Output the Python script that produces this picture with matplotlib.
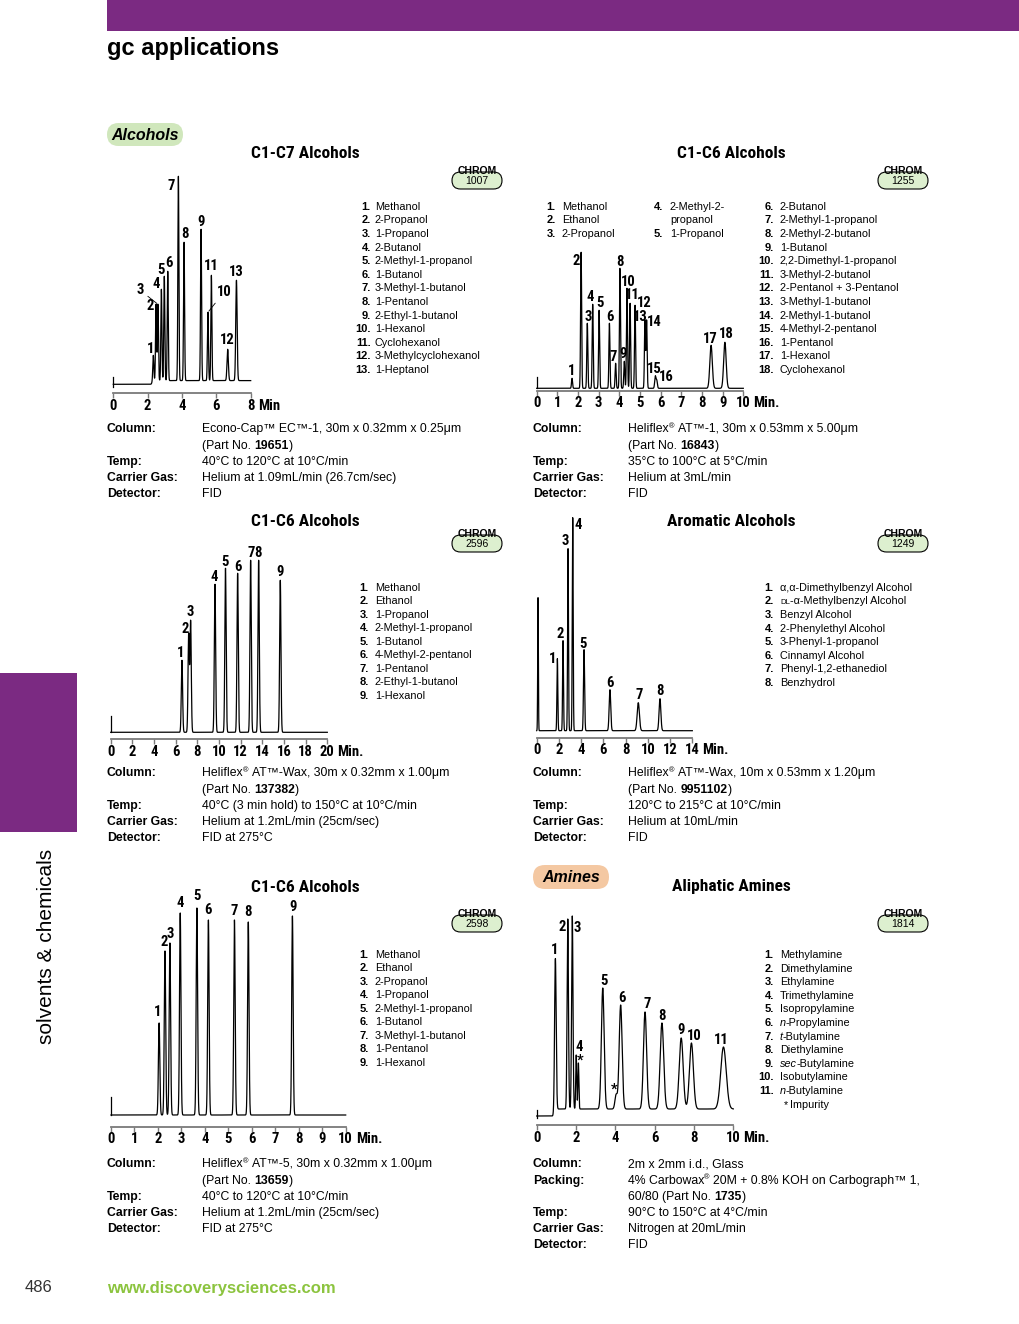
import re
import numpy as np
import matplotlib
matplotlib.use('Agg')
import matplotlib.pyplot as plt
from matplotlib import font_manager as fm
from matplotlib.font_manager import FontProperties
from matplotlib.patches import Rectangle, FancyBboxPatch

# ---------------- data ----------------
# 1) C1-C7 Alcohols, CHROM 1007
p1_names = ['Methanol', '2-Propanol', '1-Propanol', '2-Butanol', '2-Methyl-1-propanol',
            '1-Butanol', '3-Methyl-1-butanol', '1-Pentanol', '2-Ethyl-1-butanol',
            '1-Hexanol', 'Cyclohexanol', '3-Methylcyclohexanol', '1-Heptanol']
p1_labels = [str(i) for i in range(1, 14)]
p1_rt = [2.33, 2.49, 2.60, 2.80, 2.97, 3.17, 3.79, 4.12, 5.11, 5.51, 5.71, 6.66, 7.17]
p1_top = [29, 80, 80, 95, 108, 113, 208, 142, 155, 72, 109, 35, 104]
p1_sigma = [0.03] * 11 + [0.04, 0.04]
p1_ticks = [0, 2, 4, 6, 8]
p1_info = [('Column:', 'Econo-Cap™ EC™-1, 30m x 0.32mm x 0.25μm'),
           ('', '(Part No. **19651**)'),
           ('Temp:', '40°C to 120°C at 10°C/min'),
           ('Carrier Gas:', 'Helium at 1.09mL/min (26.7cm/sec)'),
           ('Detector:', 'FID')]

# 2) C1-C6 Alcohols, CHROM 1255
p2_names = ['Methanol', 'Ethanol', '2-Propanol', '2-Methyl-2-\npropanol', '1-Propanol',
            '2-Butanol', '2-Methyl-1-propanol', '2-Methyl-2-butanol', '1-Butanol',
            '2,2-Dimethyl-1-propanol', '3-Methyl-2-butanol', '2-Pentanol + 3-Pentanol',
            '3-Methyl-1-butanol', '2-Methyl-1-butanol', '4-Methyl-2-pentanol',
            '1-Pentanol', '1-Hexanol', 'Cyclohexanol']
p2_labels = [str(i) for i in range(1, 19)]
p2_rt = [1.71, 2.15, 2.45, 2.71, 3.02, 3.52, 3.82, 4.03, 4.24, 4.37, 4.52, 4.76,
         5.24, 5.32, 5.74, 5.81, 8.44, 9.11]
p2_top = [10, 136, 65, 84, 78, 65, 25, 120, 27, 100, 85, 83, 68, 68, 12, 8, 43, 46]
p2_sigma = [0.025] * 14 + [0.03, 0.03, 0.06, 0.06]
p2_ticks = list(range(0, 11))
p2_info = [('Column:', 'Heliflex^®^ AT™-1, 30m x 0.53mm x 5.00μm'),
           ('', '(Part No. **16843**)'),
           ('Temp:', '35°C to 100°C at 5°C/min'),
           ('Carrier Gas:', 'Helium at 3mL/min'),
           ('Detector:', 'FID')]

# 3) C1-C6 Alcohols, CHROM 2596
p3_names = ['Methanol', 'Ethanol', '1-Propanol', '2-Methyl-1-propanol', '1-Butanol',
            '4-Methyl-2-pentanol', '1-Pentanol', '2-Ethyl-1-butanol', '1-Hexanol']
p3_labels = [str(i) for i in range(1, 10)]
p3_rt = [6.58, 7.20, 7.38, 9.63, 10.60, 11.72, 12.92, 13.66, 15.66]
p3_top = [72, 98, 111, 148, 164, 159, 172, 172, 152]
p3_sigma = [0.06] * 9
p3_ticks = list(range(0, 21, 2))
p3_info = [('Column:', 'Heliflex^®^ AT™-Wax, 30m x 0.32mm x 1.00μm'),
           ('', '(Part No. **137382**)'),
           ('Temp:', '40°C (3 min hold) to 150°C at 10°C/min'),
           ('Carrier Gas:', 'Helium at 1.2mL/min (25cm/sec)'),
           ('Detector:', 'FID at 275°C')]

# 4) Aromatic Alcohols, CHROM 1249
p4_names = ['α,α-Dimethylbenzyl Alcohol', '~DL~-α-Methylbenzyl Alcohol', 'Benzyl Alcohol',
            '2-Phenylethyl Alcohol', '3-Phenyl-1-propanol', 'Cinnamyl Alcohol',
            'Phenyl-1,2-ethanediol', 'Benzhydrol']
p4_labels = [str(i) for i in range(1, 9)]
p4_rt = [1.86, 2.37, 2.82, 3.24, 4.26, 6.59, 9.14, 11.09]
p4_top = [72, 90, 182, 213, 81, 41, 28, 32]
p4_sigma = [0.04, 0.04, 0.04, 0.04, 0.05, 0.07, 0.10, 0.08]
p4_solvent = (0.12, 133)
p4_ticks = list(range(0, 15, 2))
p4_info = [('Column:', 'Heliflex^®^ AT™-Wax, 10m x 0.53mm x 1.20μm'),
           ('', '(Part No. **9951102**)'),
           ('Temp:', '120°C to 215°C at 10°C/min'),
           ('Carrier Gas:', 'Helium at 10mL/min'),
           ('Detector:', 'FID')]

# 5) C1-C6 Alcohols, CHROM 2598
p5_names = ['Methanol', 'Ethanol', '2-Propanol', '1-Propanol', '2-Methyl-1-propanol',
            '1-Butanol', '3-Methyl-1-butanol', '1-Pentanol', '1-Hexanol']
p5_labels = [str(i) for i in range(1, 10)]
p5_rt = [2.05, 2.30, 2.51, 2.95, 3.66, 4.15, 5.26, 5.85, 7.73]
p5_top = [92, 164, 172, 202, 207, 195, 195, 193, 199]
p5_sigma = [0.03] * 9
p5_ticks = list(range(0, 11))
p5_info = [('Column:', 'Heliflex^®^ AT™-5, 30m x 0.32mm x 1.00μm'),
           ('', '(Part No. **13659**)'),
           ('Temp:', '40°C to 120°C at 10°C/min'),
           ('Carrier Gas:', 'Helium at 1.2mL/min (25cm/sec)'),
           ('Detector:', 'FID at 275°C')]

# 6) Aliphatic Amines, CHROM 1814
p6_names = ['Methylamine', 'Dimethylamine', 'Ethylamine', 'Trimethylamine',
            'Isopropylamine', '_n_-Propylamine', '_t_-Butylamine', 'Diethylamine',
            '_sec_-Butylamine', 'Isobutylamine', '_n_-Butylamine']
p6_labels = ['1', '2', '3', '4', '*', '5', '*', '6', '7', '8', '9', '10', '11']
p6_rt = [0.95, 1.58, 1.81, 2.01, 2.12, 3.36, 4.04, 4.27, 5.51, 6.37, 7.35, 7.87, 9.50]
p6_top = [158, 197, 200, 61, 53, 128, 21, 111, 104, 93, 78, 73, 69]
p6_sigma = [0.04, 0.035, 0.035, 0.025, 0.025, 0.07, 0.06, 0.075, 0.08, 0.09, 0.10, 0.10, 0.14]
p6_ticks = [0, 2, 4, 6, 8, 10]
p6_info = [('Column:', '2m x 2mm i.d., Glass'),
           ('Packing:', '4% Carbowax^®^ 20M + 0.8% KOH on Carbograph™ 1,'),
           ('', '60/80 (Part No. **1735**)'),
           ('Temp:', '90°C to 150°C at 4°C/min'),
           ('Carrier Gas:', 'Nitrogen at 20mL/min'),
           ('Detector:', 'FID')]

# ---------------- fonts ----------------
SANS = ['Liberation Sans', 'DejaVu Sans']
plt.rcParams['font.family'] = SANS


def find_condensed_bold():
    # the page uses a condensed bold face for titles and peak numbers
    prefs = ['Liberation Sans Narrow', 'Roboto Condensed', 'Open Sans Condensed',
             'Noto Sans', 'DejaVu Sans', 'Open Sans', 'Roboto', 'Lato', 'Inter']
    stretch_rank = {'condensed': 0, 'semi-condensed': 1, 'extra-condensed': 2}
    best = None
    for f in fm.fontManager.ttflist:
        w = f.weight if isinstance(f.weight, int) else fm.weight_dict.get(f.weight, 400)
        narrow = f.stretch in stretch_rank or 'Narrow' in f.name or 'Condensed' in f.name
        if not narrow or w < 600 or w > 800 or f.style != 'normal':
            continue
        fam = next((i for i, p in enumerate(prefs) if f.name.startswith(p)), 50)
        key = (stretch_rank.get(f.stretch, 0), abs(w - 700), fam)
        if best is None or key < best[0]:
            best = (key, f.fname)
    return best[1] if best else None


COND_FILE = find_condensed_bold()


def cond(size):
    if COND_FILE:
        return FontProperties(fname=COND_FILE, size=size)
    return FontProperties(family=SANS, weight='bold', size=size * 0.86)


PURPLE = '#7B2A82'
W, H = 1020, 1324

fig = plt.figure(figsize=(W / 100, H / 100), dpi=100)
pg = fig.add_axes([0, 0, 1, 1])
pg.set_xlim(0, W)
pg.set_ylim(H, 0)
pg.axis('off')
R = fig.canvas.get_renderer()


def pt2px(s):
    return s * 100 / 72


def rich(x, y, s, size, **base):
    # draws s from x on baseline y; **bold**, _italic_, ~small caps~, ^superscript^
    cur = x
    for piece in re.split(r'(\*\*.+?\*\*|_.+?_|~.+?~|\^.+?\^)', s):
        if not piece:
            continue
        kw = dict(base)
        fs, yy = size, y
        if piece.startswith('**'):
            piece, kw['weight'] = piece[2:-2], 'bold'
        elif piece.startswith('_'):
            piece, kw['style'] = piece[1:-1], 'italic'
        elif piece.startswith('~'):
            piece, fs = piece[1:-1], size * 0.72
        elif piece.startswith('^'):
            piece, fs, yy = piece[1:-1], size * 0.6, y - pt2px(size) * 0.33
        sp = pt2px(fs) * 0.278
        cur += (len(piece) - len(piece.lstrip(' '))) * sp
        core = piece.strip(' ')
        if core:
            t = pg.text(cur, yy, core, fontsize=fs, ha='left', va='baseline', **kw)
            cur += t.get_window_extent(R).width
        cur += (len(piece) - len(piece.rstrip(' '))) * sp
    return cur


def legend(num_x, name_x, y0, names, first=1, step=13.58, size=7.8):
    row = 0
    for i, name in enumerate(names):
        for j, ln in enumerate(name.split('\n')):
            yb = y0 + row * step + 0.36 * pt2px(size)
            if j == 0:
                pg.text(num_x, yb, f'{first + i}.', ha='right', va='baseline',
                        fontsize=size + 0.2, weight='bold')
            rich(name_x, yb, ln, size)
            row += 1
    return y0 + row * step


def info(xl, xv, y0, rows, step=16.2, size=8.8):
    for k, (lab, val) in enumerate(rows):
        yb = y0 + k * step + 0.36 * pt2px(size)
        if lab:
            pg.text(xl, yb, lab, fontsize=size, weight='bold', va='baseline')
        rich(xv, yb, val, size)


def badge(x, ytop, num):
    pg.add_patch(FancyBboxPatch((x, ytop), 50, 17, boxstyle='round,pad=0,rounding_size=8.5',
                                fc='#DDEFCF', ec='black', lw=0.8))
    pg.text(x + 25, ytop - 1.4, 'CHROM', ha='center', va='center', fontsize=7.5, weight='bold')
    pg.text(x + 25, ytop + 9, num, ha='center', va='center', fontsize=7.5)


def pill(x, y, w, h, text, color):
    pg.add_patch(FancyBboxPatch((x, y), w, h, boxstyle=f'round,pad=0,rounding_size={h / 2}',
                                fc=color, ec='none'))
    pg.text(x + w / 2, y + h / 2 + 0.5, text, ha='center', va='center', fontsize=11.5,
            weight='bold', style='italic')


def chromatogram(box, xmax, ticks, unit, rt, tops, sigma, labels, offs,
                 start=None, step=None, solvent=None, leaders=()):
    x0, x1, ay, by = box
    ty = ay - 270
    ax = fig.add_axes([x0 / W, 1 - ay / H, (x1 - x0) / W, (ay - ty) / H])
    ax.set_xlim(0, xmax)
    ax.set_ylim(by - ay, by - ty)
    ax.patch.set_visible(False)
    t = np.linspace(0, xmax, 12000)
    base = np.zeros_like(t)
    if step:
        base = step[1] / (1 + np.exp(-(t - step[0]) / 0.02))
    y = base.copy()
    for r, h, s in zip(rt, tops, sigma):
        b = step[1] if (step and r > step[0]) else 0
        y += (h - b) * np.exp(-0.5 * ((t - r) / s) ** 2)
    if solvent:
        y += solvent[1] * np.exp(-0.5 * ((t - solvent[0]) / 0.03) ** 2)
    ax.plot(t, y, color='black', lw=0.9, clip_on=False)
    if start:
        ax.plot([0, 0], start, color='black', lw=0.9, clip_on=False)
    for i, (r, h, lab, (dx, dy)) in enumerate(zip(rt, tops, labels, offs)):
        arrow = dict(arrowstyle='-', lw=0.6, color='black', shrinkA=1, shrinkB=1) \
            if i in leaders else None
        ax.annotate(lab, xy=(r, h), xytext=(dx, dy), textcoords='offset pixels',
                    ha='center', va='center', fontproperties=cond(10.5),
                    annotation_clip=False, arrowprops=arrow)
    for side in ('top', 'left', 'right'):
        ax.spines[side].set_visible(False)
    ax.spines['bottom'].set_color('#7a7a7a')
    ax.spines['bottom'].set_linewidth(1.3)
    ax.set_yticks([])
    ax.set_xticks(ticks, [str(v) for v in ticks])
    ax.tick_params(axis='x', direction='out', length=3.3, width=1, color='#7a7a7a', pad=0.8)
    for lab in ax.get_xticklabels():
        lab.set_fontproperties(cond(10.5))
    ax.annotate(unit, xy=(xmax, 0), xycoords=('data', 'axes fraction'),
                xytext=(3.0 * len(str(ticks[-1])) + 4, -12.5), textcoords='offset pixels',
                ha='left', va='center', fontproperties=cond(10.5), annotation_clip=False)
    return ax


# ---------------- page furniture ----------------
pg.add_patch(Rectangle((107, 0), W - 107, 30.5, color=PURPLE, lw=0))
pg.text(107, 48, 'gc applications', fontsize=17, weight='bold', va='center')
pg.add_patch(Rectangle((0, 673), 77, 159, color=PURPLE, lw=0))
pg.text(47, 946, 'solvents & chemicals', rotation=90, ha='center', va='center', fontsize=15)
pg.text(25, 1288, '486', fontsize=12, color='#333333', va='center')
pg.text(107, 1288, 'www.discoverysciences.com', fontsize=12, weight='bold',
        color='#8CC43F', va='center')

pill(107, 123, 76, 23, 'Alcohols', '#D0E7BC')
pill(533, 865, 76, 24, 'Amines', '#F4C8A2')

for (cx, cy, title) in [(305, 154, 'C1-C7 Alcohols'), (731, 154, 'C1-C6 Alcohols'),
                        (305, 521, 'C1-C6 Alcohols'), (731, 521, 'Aromatic Alcohols'),
                        (305, 887, 'C1-C6 Alcohols'), (731, 887, 'Aliphatic Amines')]:
    pg.text(cx, cy, title, ha='center', va='center', fontproperties=cond(12.5))

badge(452, 172, '1007')
badge(878, 172, '1255')
badge(452, 535, '2596')
badge(878, 535, '1249')
badge(452, 915, '2598')
badge(878, 915, '1814')

# ---------------- legends ----------------
legend(371, 375, 206, p1_names)
legend(556, 562, 206, p2_names[:3], first=1)
legend(663, 670, 206, p2_names[3:5], first=4)
legend(774, 780, 206, p2_names[5:], first=6)
legend(369, 375, 587, p3_names, step=13.5)
legend(774, 780, 587, p4_names)
legend(369, 375, 954, p5_names, step=13.5)
yi = legend(774, 780, 954, p6_names, step=13.6)
yb = yi + 0.36 * pt2px(7.8)
pg.text(788, yb + 1, '*', ha='right', va='baseline', fontsize=7.8)
pg.text(790, yb, 'Impurity', ha='left', va='baseline', fontsize=7.8)

# ---------------- condition blocks ----------------
info(107, 202, 428, p1_info)
info(533, 628, 428, p2_info)
info(107, 202, 772, p3_info)
info(533, 628, 772, p4_info)
info(107, 202, 1163, p5_info)
info(533, 628, 1163, p6_info)

# ---------------- chromatograms ----------------
chromatogram((113.3, 250.7, 393, 384.3), 8, p1_ticks, 'Min', p1_rt, p1_top, p1_sigma, p1_labels,
             [(-2.7, 6.7), (-6, -1.7), (-17.7, 14), (-5.3, 5.7), (-3.3, 6.7), (1.3, 8.3),
              (-7.7, -9.3), (1, 8), (0, 7.3), (16, 20), (0.3, 9), (0, 9.3), (0.3, 8)],
             start=(-2.4, 7), step=(2.25, 3.7), leaders=(2, 9))
chromatogram((536.7, 743.3, 390.7, 388.3), 10, p2_ticks, 'Min.', p2_rt, p2_top, p2_sigma,
             p2_labels,
             [(-0.7, 7.7), (-5, -9), (1, 6.7), (-2.7, 7.7), (1.3, 7.3), (1, 6), (-2.7, 6.7),
              (0.3, 6.3), (-1, 7.7), (1.3, 6.7), (2.3, 8.7), (9.5, 2.3), (-5, 3.3), (8, -1.7),
              (-0.8, 7.5), (9.8, 3.5), (-1, 6.7), (1.7, 8.3)],
             start=(0, 11.6))
chromatogram((110.7, 327.3, 739, 732.3), 20, p3_ticks, 'Min.', p3_rt, p3_top, p3_sigma,
             p3_labels,
             [(-1, 7.3), (-3.5, 5.5), (-0.7, 9.3), (-0.7, 7), (-0.7, 6.7), (0, 6.7), (1, 7.3),
              (-0.3, 7.3), (-0.7, 8.3)],
             start=(0, 16.3))
chromatogram((536.7, 692.3, 737.7, 730.7), 14, p4_ticks, 'Min.', p4_rt, p4_top, p4_sigma,
             p4_labels,
             [(-4.7, -0.7), (-3, 7), (-3, 8), (5, -7.7), (-0.7, 6), (-0.3, 6.7), (0.7, 7.3),
              (0, 7.7)],
             solvent=p4_solvent)
chromatogram((111, 345.7, 1126.7, 1115), 10, p5_ticks, 'Min.', p5_rt, p5_top, p5_sigma,
             p5_labels,
             [(-1.3, 11), (-0.7, 9.3), (0.7, 9.3), (0, 10), (-0.3, 11.7), (0, 10), (-0.7, 9.3),
              (-0.7, 9.7), (0.3, 8.7)],
             start=(0, 18.3))
chromatogram((536.7, 733.3, 1125, 1116), 10, p6_ticks, 'Min.', p6_rt, p6_top, p6_sigma,
             p6_labels,
             [(-0.7, 8.3), (-5.7, -8), (5, -11.7), (3, 8), (1.8, 2), (1.7, 6.7), (-2, 5.7),
              (1.7, 6.7), (1.7, 7.7), (0.3, 6.7), (0.3, 7.7), (3.3, 6.7), (-2, 7.3)],
             start=(-2.3, 6), step=(0.9, 7))

fig.savefig('out.png', dpi=100)
